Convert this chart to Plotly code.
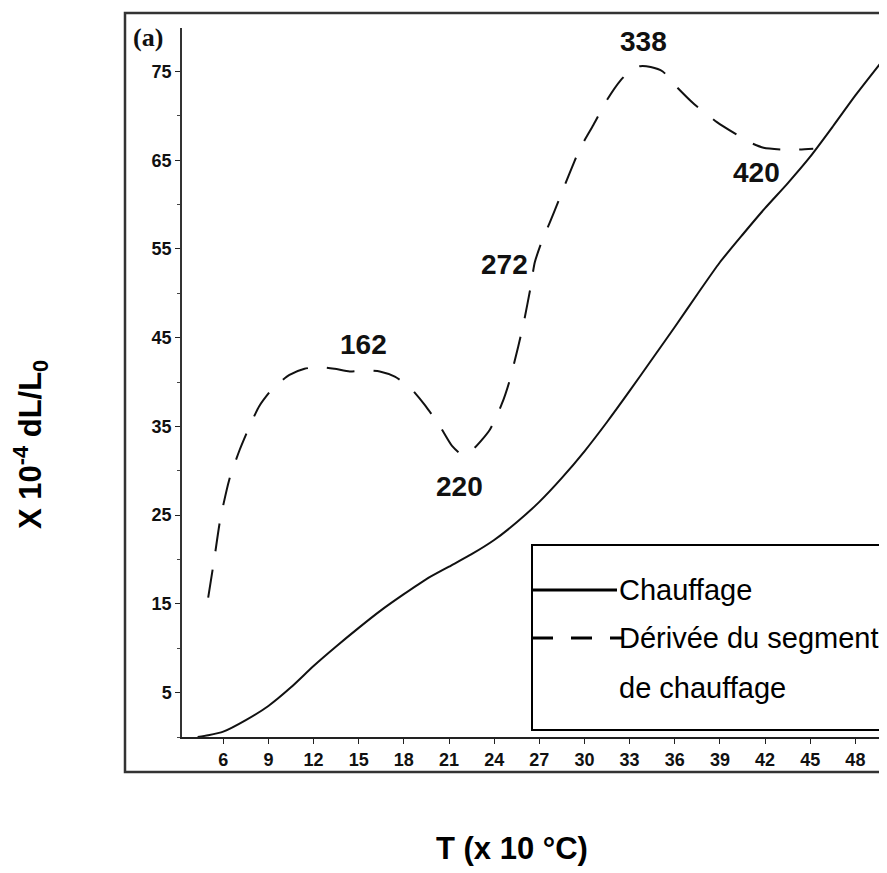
import plotly.graph_objects as go

# ---- data ----
heat_T = [4.3, 5, 6, 7.5, 9, 10.5, 12, 13.5, 15, 16.5, 18, 19.5, 21, 22.5, 24, 25.5,
          27, 28.5, 30, 31.5, 33, 34.5, 36, 37.5, 39, 40.5, 42, 43.5, 45, 46.5, 48, 49.7]
heat_dL = [0, 0.2, 0.6, 1.9, 3.5, 5.6, 8.0, 10.2, 12.3, 14.3, 16.1, 17.8, 19.2, 20.6, 22.2, 24.2,
           26.5, 29.2, 32.2, 35.5, 39.0, 42.6, 46.2, 49.9, 53.5, 56.6, 59.6, 62.4, 65.4, 68.8, 72.3, 76.0]

deriv_T = [5.0, 5.4, 5.8, 6.4, 7.1, 7.8, 8.4, 9.3, 10.4, 11.4, 12.4, 13.4, 14.4, 15.4, 16.4,
           17.4, 18.4, 19.4, 20.4, 21.2, 21.9, 22.7, 23.7, 24.5, 25.0, 25.6, 26.0, 26.4, 26.7,
           27.2, 27.7, 28.3, 29.0, 29.7, 30.6, 31.5, 32.4, 33.0, 33.7, 34.4, 35.2, 36.1, 37.3,
           38.8, 40.1, 41.0, 41.9, 43.2, 44.3, 45.2]
deriv_dL = [15.7, 20.0, 24.5, 29.0, 32.4, 35.2, 37.3, 39.3, 40.8, 41.5, 41.7, 41.5, 41.2, 41.3, 41.2,
            40.6, 39.4, 37.4, 35.0, 32.8, 31.8, 32.6, 34.6, 37.5, 40.0, 44.0, 47.0, 50.5, 53.5,
            56.0, 58.0, 60.5, 63.5, 66.3, 69.0, 71.8, 74.0, 75.0, 75.6, 75.5, 75.0, 73.3, 71.3,
            69.3, 67.9, 67.0, 66.4, 66.2, 66.2, 66.3]

x_ticks = [6, 9, 12, 15, 18, 21, 24, 27, 30, 33, 36, 39, 42, 45, 48]
y_ticks = [5, 15, 25, 35, 45, 55, 65, 75]

label_text = ["162", "220", "272", "338", "420"]
label_x = [15.3, 21.7, 24.7, 33.9, 41.4]
label_y = [44.2, 28.2, 53.2, 78.4, 63.6]

legend_names = ["Chauffage", "Dérivée du segment", "de chauffage"]

# ---- figure ----
# the page body has an 8px margin, so the figure is 8px smaller and shifted
OFF = 8
W, H = 887 - OFF, 873 - OFF
def px(x):
    return (x - OFF) / W
def py(y):
    return 1 - (y - OFF) / H

fig = go.Figure()
fig.add_trace(go.Scatter(x=heat_T, y=heat_dL, mode="lines", name=legend_names[0],
                         line=dict(color="#111", width=2, shape="spline", smoothing=0.6)))
fig.add_trace(go.Scatter(x=deriv_T, y=deriv_dL, mode="lines", name=legend_names[1],
                         line=dict(color="#111", width=2, dash="28px,19px",
                                   shape="spline", smoothing=0.6)))

tickfont = dict(family="Liberation Sans, Arial, sans-serif", size=18, color="#111", weight="bold")
fig.update_xaxes(domain=[px(182), 1.0], range=[3.26, 50.1], tickvals=x_ticks,
                 showline=True, linecolor="#222", linewidth=2, ticks="outside", ticklen=5,
                 tickcolor="#222", tickfont=tickfont, showgrid=False, zeroline=False)
fig.update_yaxes(domain=[py(737), py(28)], range=[0, 79.9], tickvals=y_ticks,
                 showline=True, linecolor="#333", linewidth=1.5, ticks="outside", ticklen=5,
                 tickcolor="#222", tickfont=tickfont, showgrid=False, zeroline=False,
                 minor=dict(ticks="outside", ticklen=3, tickcolor="#444", dtick=5, tick0=0))

shapes = [
    # outer frame
    dict(type="rect", xref="paper", yref="paper", x0=px(125), x1=1.01, y0=py(772), y1=py(13),
         line=dict(color="#333", width=2.5), fillcolor="rgba(0,0,0,0)", layer="above"),
    # legend box
    dict(type="rect", xref="paper", yref="paper", x0=px(532), x1=px(885), y0=py(730), y1=py(545),
         line=dict(color="#000", width=2), fillcolor="white", layer="above"),
    dict(type="line", xref="paper", yref="paper", x0=px(532), x1=px(617), y0=py(590), y1=py(590),
         line=dict(color="#000", width=3), layer="above"),
    dict(type="line", xref="paper", yref="paper", x0=px(532), x1=px(624), y0=py(638), y1=py(638),
         line=dict(color="#000", width=3, dash="21px,18px"), layer="above"),
]

annotations = []
for t, x, y in zip(label_text, label_x, label_y):
    annotations.append(dict(text=t, x=x, y=y, xref="x", yref="y", showarrow=False,
                            xanchor="center", yanchor="middle",
                            font=dict(family="Liberation Sans Narrow, Arial Narrow, Liberation Sans, sans-serif",
                                      size=28, color="#111", weight="bold")))
leg_font = dict(family="Liberation Sans, Arial, sans-serif", size=29, color="#000")
for name, yy in zip(legend_names, [590, 638, 688]):
    annotations.append(dict(text=name, x=px(617), y=py(yy), xref="paper", yref="paper",
                            xanchor="left", yanchor="middle", showarrow=False, font=leg_font))
annotations += [
    dict(text="<b>(a)</b>", x=px(148), y=py(37), xref="paper", yref="paper", showarrow=False,
         xanchor="center", yanchor="middle",
         font=dict(family="Liberation Serif, serif", size=26, color="#111")),
    dict(text="<b>X 10<sup>-4</sup> dL/L<sub>0</sub></b>", x=px(30), y=py(445), xref="paper",
         yref="paper", showarrow=False, textangle=-90, xanchor="center", yanchor="middle",
         font=dict(family="Liberation Sans, Arial, sans-serif", size=31, color="#000")),
    dict(text="<b>T (x 10 °C)</b>", x=px(512), y=py(848), xref="paper", yref="paper",
         showarrow=False, xanchor="center", yanchor="middle",
         font=dict(family="Liberation Sans, Arial, sans-serif", size=31, color="#000")),
]

fig.update_layout(width=W, height=H, autosize=False, margin=dict(l=0, r=0, t=0, b=0),
                  paper_bgcolor="white", plot_bgcolor="white", showlegend=False,
                  shapes=shapes, annotations=annotations)

fig.write_html("out.html")
